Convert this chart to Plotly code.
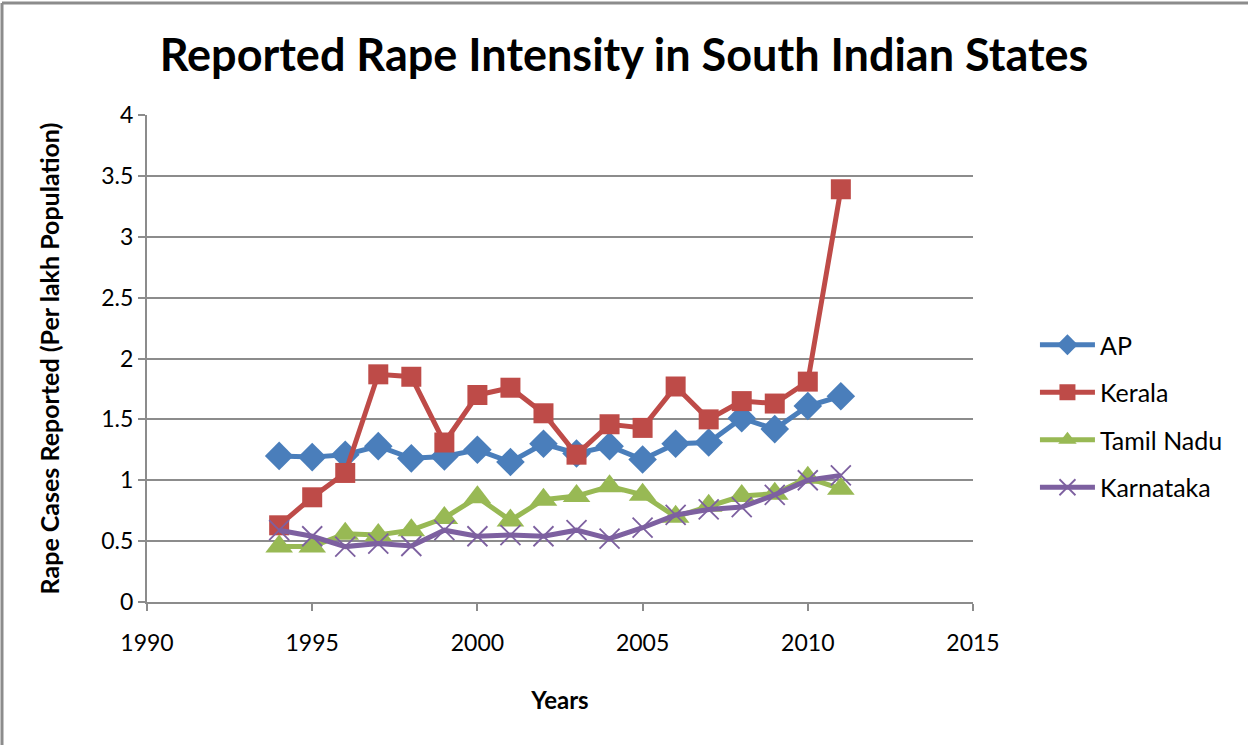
import plotly.graph_objects as go

years = list(range(1994, 2012))

ap = [1.20, 1.19, 1.21, 1.28, 1.18, 1.195, 1.25, 1.15, 1.30, 1.22, 1.28,
      1.17, 1.30, 1.31, 1.51, 1.42, 1.61, 1.69]
kerala = [0.63, 0.86, 1.06, 1.87, 1.85, 1.31, 1.70, 1.76, 1.55, 1.21, 1.46,
          1.43, 1.77, 1.50, 1.65, 1.63, 1.81, 3.39]
tamil_nadu = [0.455, 0.455, 0.56, 0.55, 0.59, 0.69, 0.86, 0.67, 0.84, 0.87, 0.95,
              0.88, 0.70, 0.79, 0.87, 0.89, 1.02, 0.93]
karnataka = [0.59, 0.54, 0.455, 0.48, 0.46, 0.59, 0.54, 0.55, 0.54, 0.59, 0.52,
             0.61, 0.715, 0.76, 0.78, 0.88, 1.00, 1.04]

series = [
    ("AP", ap, "#4a7ebb", "diamond", 22),
    ("Kerala", kerala, "#be4b48", "square", 20),
    ("Tamil Nadu", tamil_nadu, "#98b954", "triangle-up", 24),
    ("Karnataka", karnataka, "#7d60a0", "x-thin", 20),
]

FONT = "Lato"
GRID = "#8c8c8c"

fig = go.Figure()
for name, vals, color, symbol, size in series:
    marker = dict(symbol=symbol, size=size, color=color)
    if symbol == "x-thin":
        marker["line"] = dict(color=color, width=1.8)
    fig.add_trace(go.Scatter(
        x=years, y=vals, name=name, mode="lines+markers",
        legendgroup=name,
        line=dict(color=color, width=5),
        marker=marker,
    ))

fig.update_layout(
    width=1248, height=745,
    margin=dict(l=147, r=275, t=115, b=143),
    paper_bgcolor="white", plot_bgcolor="white",
    font=dict(family=FONT, color="black", size=23),
    title=dict(
        text="<b>Reported Rape Intensity in South Indian States</b>",
        x=0.5, xref="container", xanchor="center",
        y=1 - 55 / 745, yanchor="middle",
        font=dict(family=FONT, size=45, color="black"),
    ),
    xaxis=dict(
        range=[1990, 2015], dtick=5, tick0=1990,
        showgrid=False, zeroline=False,
        showline=True, linecolor=GRID, linewidth=2,
        ticks="outside", ticklen=7, tickcolor=GRID, tickwidth=2,
        ticklabelstandoff=12,
        tickfont=dict(size=23),
        title=dict(text="<b>Years</b>", font=dict(size=24), standoff=38),
    ),
    yaxis=dict(
        range=[0, 4], dtick=0.5,
        showgrid=True, gridcolor=GRID, gridwidth=1.5,
        zeroline=False,
        showline=True, linecolor=GRID, linewidth=2,
        ticks="outside", ticklen=7, tickcolor=GRID, tickwidth=2,
        tickfont=dict(size=23),
        title=dict(text="<b>Rape Cases Reported (Per lakh Population)</b>",
                   font=dict(size=25), standoff=35),
    ),
    legend=dict(
        x=1.075, y=(602 - 416) / 487, xanchor="left", yanchor="middle",
        font=dict(size=25), tracegroupgap=12, itemwidth=55,
        bgcolor="rgba(0,0,0,0)",
    ),
    showlegend=True,
)

# Outer chart frame (top and left edges)
pw = 1248 - 147 - 275
ph = 745 - 115 - 143
fig.add_shape(type="line", xref="paper", yref="paper",
              x0=(2 - 147) / pw, x1=(1248 - 147) / pw,
              y0=1 + (115 - 3) / ph, y1=1 + (115 - 3) / ph,
              line=dict(color="#8c8c8c", width=3))
fig.add_shape(type="line", xref="paper", yref="paper",
              x0=(2 - 147) / pw, x1=(2 - 147) / pw,
              y0=1 + (115 - 3) / ph, y1=-(143) / ph,
              line=dict(color="#8c8c8c", width=3))

fig.write_html("out.html")
